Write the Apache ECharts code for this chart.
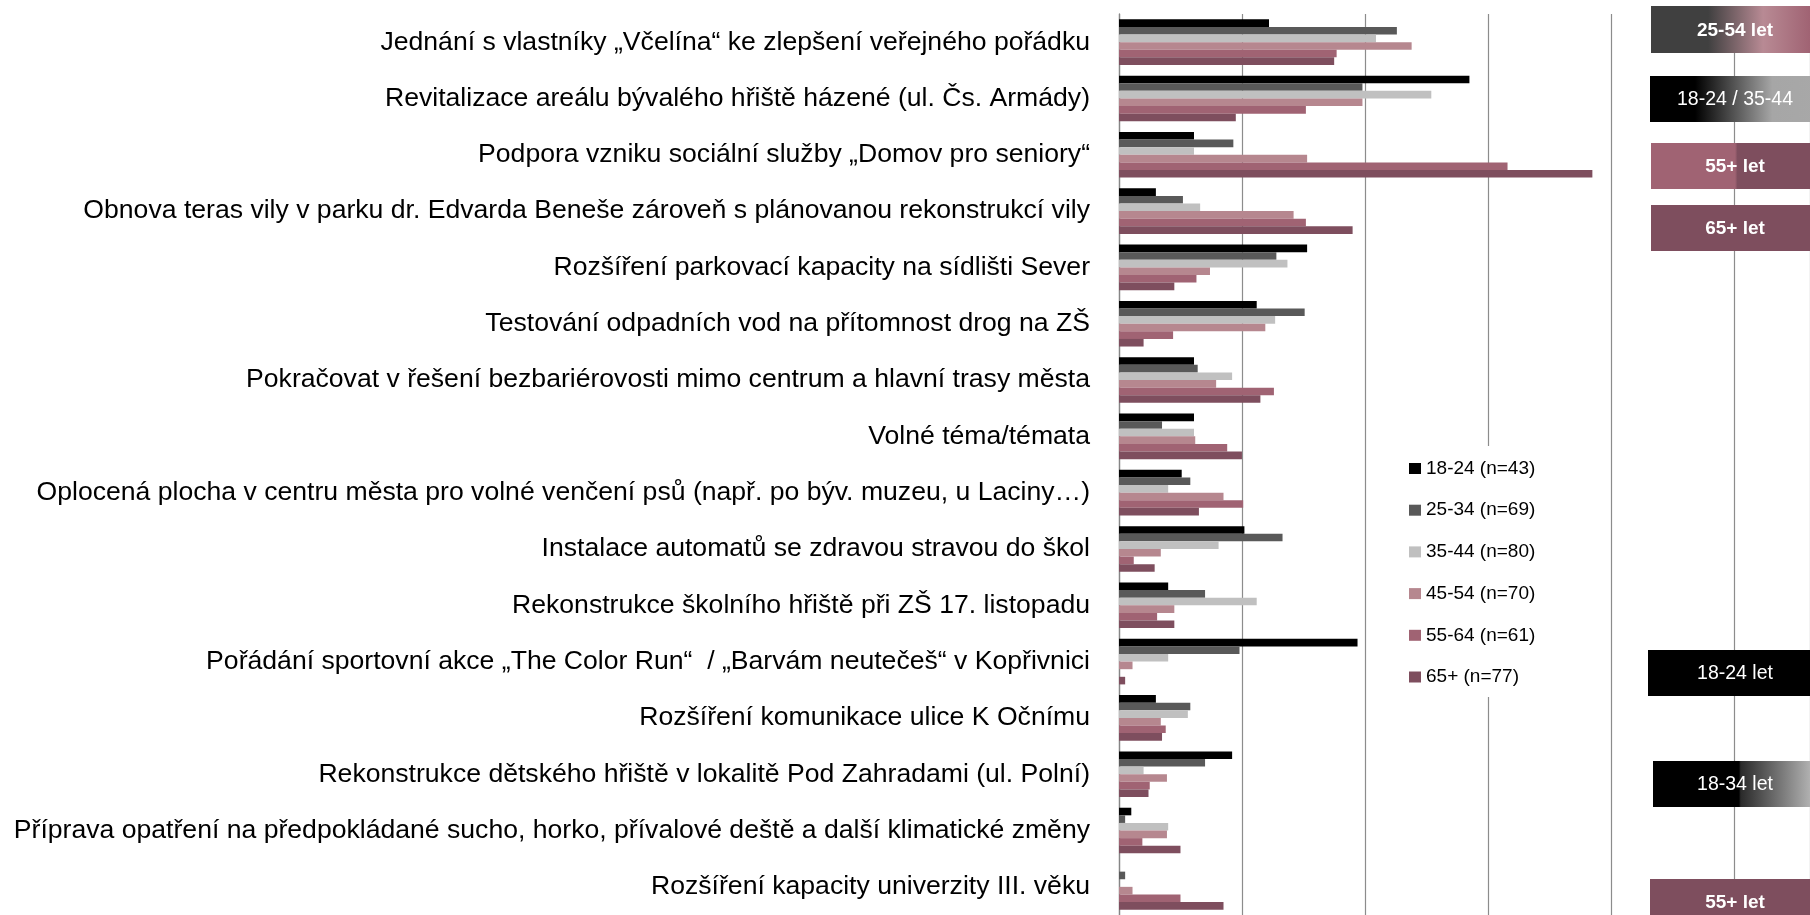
<!DOCTYPE html>
<html>
<head>
<meta charset="utf-8">
<title>Priority projektů podle věku</title>
<script src="https://cdn.jsdelivr.net/npm/echarts@6/dist/echarts.min.js"></script>
<style>
    html, body {margin:0; padding:0; background:#fff;}
    #main {width:1810px; height:915px;}
</style>
</head>
<body>
<div id="main"></div>
<script>
// categories (top to bottom)
var categories = [
    "Jednání s vlastníky „Včelína“ ke zlepšení veřejného pořádku",
    "Revitalizace areálu bývalého hřiště házené (ul. Čs. Armády)",
    "Podpora vzniku sociální služby „Domov pro seniory“",
    "Obnova teras vily v parku dr. Edvarda Beneše zároveň s plánovanou rekonstrukcí vily",
    "Rozšíření parkovací kapacity na sídlišti Sever",
    "Testování odpadních vod na přítomnost drog na ZŠ",
    "Pokračovat v řešení bezbariérovosti mimo centrum a hlavní trasy města",
    "Volné téma/témata",
    "Oplocená plocha v centru města pro volné venčení psů (např. po býv. muzeu, u Laciny…)",
    "Instalace automatů se zdravou stravou do škol",
    "Rekonstrukce školního hřiště při ZŠ 17. listopadu",
    "Pořádání sportovní akce „The Color Run“  / „Barvám neutečeš“ v Kopřivnici",
    "Rozšíření komunikace ulice K Očnímu",
    "Rekonstrukce dětského hřiště v lokalitě Pod Zahradami (ul. Polní)",
    "Příprava opatření na předpokládané sucho, horko, přívalové deště a další klimatické změny",
    "Rozšíření kapacity univerzity III. věku"
];

// series names (legend)
var seriesNames = ["18-24 (n=43)", "25-34 (n=69)", "35-44 (n=80)", "45-54 (n=70)", "55-64 (n=61)", "65+ (n=77)"];

// values, one array per age group
var age1824 = [12.2, 28.5, 6.1, 3.0, 15.3, 11.2, 6.1, 6.1, 5.1, 10.2, 4.0, 19.4, 3.0, 9.2, 1.0, 0];
var age2534 = [22.6, 19.8, 9.3, 5.2, 12.8, 15.1, 6.4, 3.5, 5.8, 13.3, 7.0, 9.8, 5.8, 7.0, 0.5, 0.5];
var age3544 = [20.9, 25.4, 6.1, 6.6, 13.7, 12.7, 9.2, 6.1, 4.0, 8.1, 11.2, 4.0, 5.6, 2.0, 4.0, 0];
var age4554 = [23.8, 19.8, 15.3, 14.2, 7.4, 11.9, 7.9, 6.2, 8.5, 3.4, 4.5, 1.1, 3.4, 3.9, 3.9, 1.1];
var age5564 = [17.7, 15.2, 31.6, 15.2, 6.3, 4.4, 12.6, 8.8, 10.1, 1.2, 3.1, 0, 3.8, 2.5, 1.9, 5.0];
var age65 = [17.5, 9.5, 38.5, 19.0, 4.5, 2.0, 11.5, 10.0, 6.5, 2.9, 4.5, 0.5, 3.5, 2.4, 5.0, 8.5];

// annotation labels on the right
var noteTexts = ["25-54 let", "18-24 / 35-44", "55+ let", "65+ let", "18-24 let", "18-34 let", "55+ let"];

var colors = ['#000000', '#595959', '#c0c0c0', '#b6878f', '#a06373', '#7e4e5e'];
var FONT = 'Liberation Sans';

var myChart = echarts.init(document.getElementById('main'));

var allData = [age1824, age2534, age3544, age4554, age5564, age65];
var series = [];
for (var i = 0; i < allData.length; i++) {
    series.push({
        name: seriesNames[i],
        type: 'bar',
        data: allData[i],
        barGap: 0,
        barCategoryGap: '19%',
        itemStyle: {color: colors[i]}
    });
}

function grad(stops) {
    return new echarts.graphic.LinearGradient(0, 0, 1, 0, stops.map(function (s) {
        return {offset: s[0], color: s[1]};
    }));
}

// boxes: left / top / width / height, fill, bold
var boxes = [
    {x: 1651, y: 6, w: 168, h: 47, bold: true,
        fill: grad([[0, '#404040'], [0.34, '#404040'], [0.667, '#b88a94'], [0.946, '#a06373'], [1, '#a06373']])},
    {x: 1650, y: 76, w: 170, h: 46, bold: false,
        fill: grad([[0, '#000'], [0.265, '#000'], [0.72, '#a6a6a6'], [1, '#a8a8a8']])},
    {x: 1651, y: 143, w: 168, h: 46, bold: true,
        fill: grad([[0, '#a06373'], [0.5, '#a06373'], [0.515, '#7e4e5e'], [1, '#7e4e5e']])},
    {x: 1651, y: 205, w: 168, h: 46, bold: true, fill: '#7e4e5e'},
    {x: 1648, y: 650, w: 174, h: 46, bold: false, fill: '#000'},
    {x: 1653, y: 761, w: 164, h: 46, bold: false,
        fill: grad([[0, '#000'], [0.524, '#000'], [0.535, '#2a2a2a'], [0.957, '#b0b0b0'], [1, '#b4b4b4']])},
    {x: 1650, y: 879, w: 170, h: 46, bold: true, fill: '#7e4e5e'}
];

var graphics = [];
boxes.forEach(function (b, k) {
    graphics.push({
        type: 'rect',
        x: b.x,
        y: b.y,
        z: 100,
        shape: {x: 0, y: 0, width: b.w, height: b.h},
        style: {fill: b.fill}
    });
    graphics.push({
        type: 'text',
        x: b.x + b.w / 2,
        y: b.y + b.h / 2 + 1,
        z: 101,
        style: {
            text: noteTexts[k],
            fill: '#fff',
            font: (b.bold ? 'bold 19px ' : '19.5px ') + FONT,
            align: 'center',
            verticalAlign: 'middle'
        }
    });
});

// the plot runs past the right edge of the picture: ~123px per 10 units
var option = {
    animation: false,
    backgroundColor: '#fff',
    legend: {
        orient: 'vertical',
        left: 1397,
        top: 446,
        padding: [12.5, 10, 10, 12],
        backgroundColor: '#fff',
        icon: 'rect',
        itemWidth: 12,
        itemHeight: 11,
        itemGap: 21.7,
        textStyle: {fontFamily: FONT, fontSize: 19, lineHeight: 20, color: '#000'},
        data: seriesNames
    },
    grid: {left: 1119, top: 14, right: 0, height: 917},
    xAxis: {
        type: 'value',
        min: 0,
        max: 56.2,
        interval: 10,
        axisLabel: {show: false},
        axisLine: {show: false},
        axisTick: {show: false},
        splitLine: {lineStyle: {color: '#8c8c8c', width: 1.2}}
    },
    yAxis: {
        type: 'category',
        inverse: true,
        data: categories,
        axisLine: {lineStyle: {color: '#868686', width: 1.3}},
        axisTick: {length: 9, lineStyle: {color: '#868686', width: 1.3}},
        axisLabel: {margin: 29, fontFamily: FONT, fontSize: 26.6, color: '#000'}
    },
    series: series,
    graphic: graphics
};

myChart.setOption(option);
</script>
</body>
</html>
